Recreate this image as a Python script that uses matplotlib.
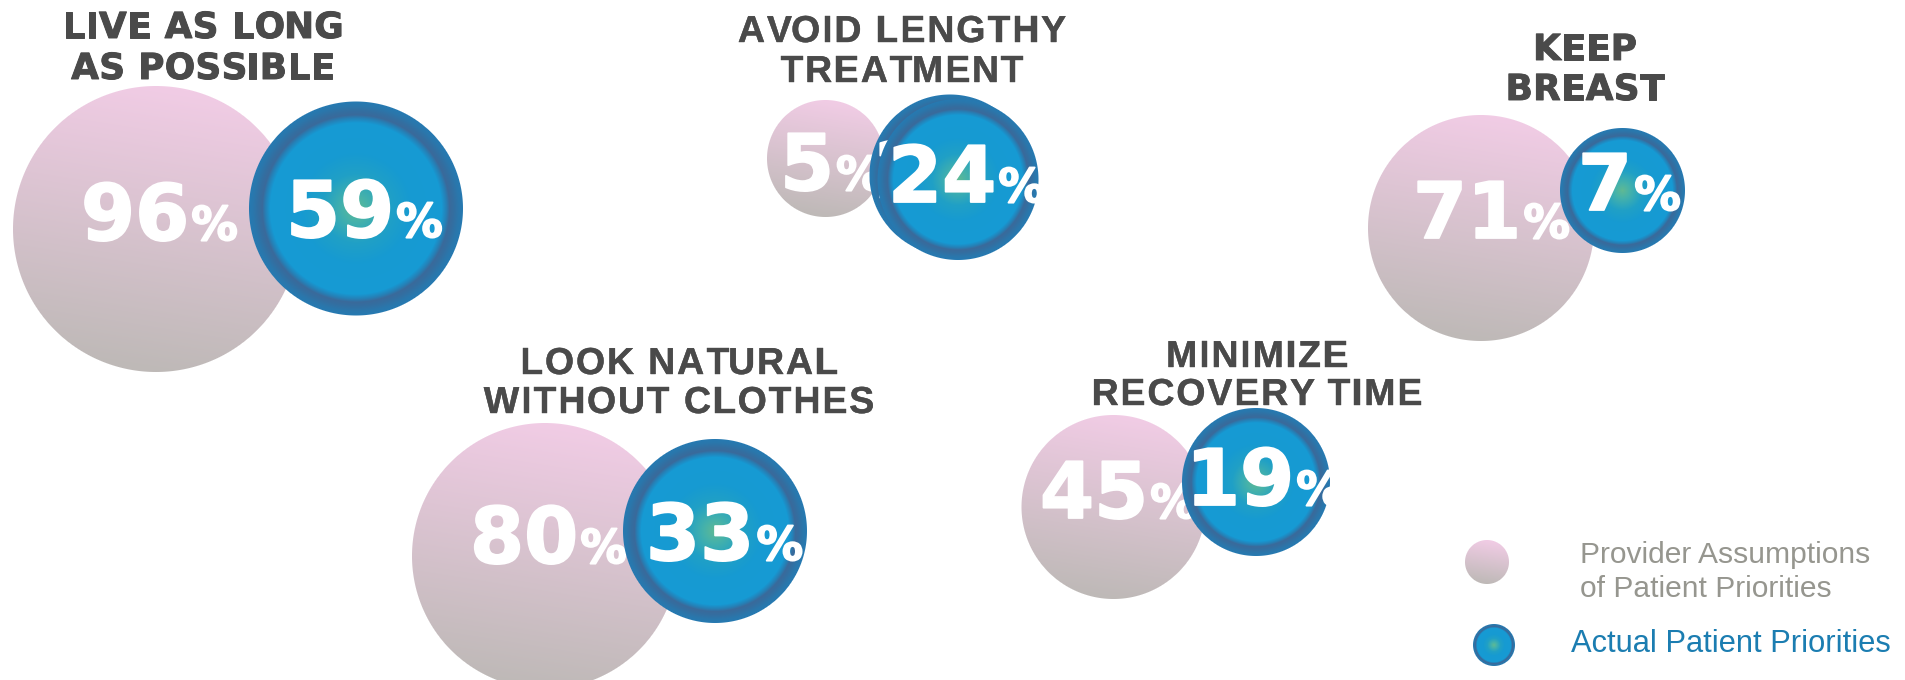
import numpy as np
import matplotlib
matplotlib.use("Agg")
import matplotlib.pyplot as plt
import matplotlib.patheffects as pe
from matplotlib.patches import Circle
from matplotlib.font_manager import FontProperties

# ---------------------------------------------------------------- data
categories = [
    ["LIVE AS LONG", "AS POSSIBLE"],
    ["AVOID LENGTHY", "TREATMENT"],
    ["KEEP", "BREAST"],
    ["LOOK NATURAL", "WITHOUT CLOTHES"],
    ["MINIMIZE", "RECOVERY TIME"],
]
provider_pct = [96, 5, 71, 80, 45]
patient_pct = [59, 24, 7, 33, 19]
legend_labels = ["Provider Assumptions\nof Patient Priorities",
                 "Actual Patient Priorities"]

# ---------------------------------------------------------------- layout (pixel units)
W, H, DPI = 1905, 680, 100
# (cx, cy, r) for provider and patient bubbles, number anchors, title centre/baselines/style
layout = [
    dict(pink=(156, 229, 143), blue=(356, 208.5, 107), ptxt=(81, 240), btxt=(286, 237),
         title=(203, (38, 79), "dejavu")),
    dict(pink=(825.5, 158.5, 58.5), blue=(958, 179.5, 80.5), ptxt=(780, 190), btxt=(888, 202),
         title=(902, (42, 82), "arial"), echo=(-8, -4.5)),
    dict(pink=(1481, 228, 113), blue=(1622.5, 190.5, 62.5), ptxt=(1413, 238), btxt=(1578, 210),
         title=(1585, (60, 100), "dejavu")),
    dict(pink=(545, 556, 133), blue=(715, 531, 92), ptxt=(470, 563), btxt=(646, 560),
         title=(679, (374, 413), "arial")),
    dict(pink=(1113.5, 507, 92), blue=(1256, 482, 74), ptxt=(1040, 518), btxt=(1186, 505),
         title=(1257, (367, 405), "arial")),
]

TITLE_COLOR = "#4a4a4a"
fp_title_dv = FontProperties(family="DejaVu Sans", weight="bold", size=25.8)
fp_title_ar = FontProperties(family="Liberation Sans", weight="bold", size=27)
fp_num = FontProperties(family="DejaVu Sans", weight="bold", size=56)
fp_pct = FontProperties(family="DejaVu Sans", weight="bold", size=33.5)

num_fx = [pe.withStroke(linewidth=1.3, foreground="white")]
title_dv_fx = [pe.withStroke(linewidth=0.7, foreground=TITLE_COLOR)]
title_ar_fx = [pe.withStroke(linewidth=0.3, foreground=TITLE_COLOR)]

fig = plt.figure(figsize=(W / DPI, H / DPI), dpi=DPI)
ax = fig.add_axes([0, 0, 1, 1])
ax.set_xlim(0, W)
ax.set_ylim(H, 0)
ax.axis("off")
renderer = fig.canvas.get_renderer()


def text_width(s, fp):
    w1, _, _ = renderer.get_text_width_height_descent("H" + s + "H", fp, ismath=False)
    w0, _, _ = renderer.get_text_width_height_descent("HH", fp, ismath=False)
    return w1 - w0


def pixel_grid(cx, cy, r):
    x0, x1 = int(np.floor(cx - r)) - 2, int(np.ceil(cx + r)) + 2
    y0, y1 = int(np.floor(cy - r)) - 2, int(np.ceil(cy + r)) + 2
    xs = np.arange(x0, x1) + 0.5
    ys = np.arange(y0, y1) + 0.5
    X, Y = np.meshgrid(xs, ys)
    return X, Y, (x0, x1, y1, y0)


def pink_bubble(cx, cy, r, z):
    X, Y, ext = pixel_grid(cx, cy, r)
    d = np.hypot(X - cx, Y - cy)
    t = np.clip((Y - (cy - r)) / (2 * r) - 0.08 * (X - cx) / r, 0, 1)[..., None]
    top = np.array([241, 204, 229]) / 255
    bot = np.array([190, 185, 183]) / 255
    rgb = top * (1 - t) + bot * t
    a = np.clip(r - d + 0.5, 0, 1)[..., None]
    ax.imshow(np.concatenate([rgb, a], axis=2), extent=ext, origin="upper",
              interpolation="nearest", zorder=z)


BLUE_STOPS = np.array([0.0, 0.12, 0.32, 0.52, 0.80, 0.845, 0.875, 0.91, 0.96, 1.0])
BLUE_R = np.array([95, 70, 32, 22, 22, 38, 58, 52, 42, 38])
BLUE_G = np.array([185, 178, 160, 154, 154, 128, 106, 110, 119, 122])
BLUE_B = np.array([148, 170, 198, 210, 212, 182, 155, 160, 172, 178])


def blue_bubble(cx, cy, r, z):
    X, Y, ext = pixel_grid(cx, cy, r)
    d = np.hypot(X - cx, Y - cy)
    rho = np.clip(d / r, 0, 1)
    rgb = np.stack([np.interp(rho, BLUE_STOPS, BLUE_R),
                    np.interp(rho, BLUE_STOPS, BLUE_G),
                    np.interp(rho, BLUE_STOPS, BLUE_B)], axis=2) / 255
    a = np.clip(r - d + 0.5, 0, 1)[..., None]
    ax.imshow(np.concatenate([rgb, a], axis=2), extent=ext, origin="upper",
              interpolation="nearest", zorder=z)
    clip = Circle((cx, cy), r, transform=ax.transData, facecolor="none", edgecolor="none")
    return clip


def percent_label(x, y, value, z, clip=None):
    s = str(value)
    t1 = ax.text(x, y, s, fontproperties=fp_num, color="white", ha="left",
                 va="baseline", zorder=z, path_effects=num_fx)
    t2 = ax.text(x + text_width(s, fp_num) + 2, y, "%", fontproperties=fp_pct,
                 color="white", ha="left", va="baseline", zorder=z, path_effects=num_fx)
    if clip is not None:
        t1.set_clip_path(clip)
        t2.set_clip_path(clip)


def spaced_line(xc, y, s, fp, spacing, fx):
    total = text_width(s, fp) + spacing * (len(s) - 1)
    x = xc - total / 2
    for i, ch in enumerate(s):
        off = text_width(s[:i], fp) + spacing * i if i else 0
        ax.text(x + off, y, ch, fontproperties=fp, color=TITLE_COLOR,
                ha="left", va="baseline", zorder=10, path_effects=fx)


for i, (lines, pv, av, lay) in enumerate(zip(categories, provider_pct, patient_pct, layout)):
    base = 2 + i * 0.01
    pcx, pcy, pr = lay["pink"]
    pink_bubble(pcx, pcy, pr, base)
    percent_label(*lay["ptxt"], pv, base + 0.001)

    bcx, bcy, br = lay["blue"]
    if "echo" in lay:
        ex, ey = lay["echo"]
        c0 = blue_bubble(bcx + ex, bcy + ey, br, base + 0.002)
        percent_label(lay["btxt"][0] - 14, lay["btxt"][1] + ey, av, base + 0.003, c0)
    clip = blue_bubble(bcx, bcy, br, base + 0.004)
    percent_label(*lay["btxt"], av, base + 0.005, clip)

    xc, baselines, style = lay["title"]
    for line, yb in zip(lines, baselines):
        if style == "dejavu":
            spaced_line(xc, yb, line, fp_title_dv, 0.3, title_dv_fx)
        else:
            spaced_line(xc, yb, line, fp_title_ar, 1.9, title_ar_fx)

# ---------------------------------------------------------------- legend
pink_bubble(1487, 562, 22, 20)
blue_bubble(1494, 645, 21, 20)
prov1, prov2 = legend_labels[0].split("\n")
ax.text(1580, 563, prov1, family="Liberation Sans", size=21.6,
        color="#96968f", ha="left", va="baseline", zorder=21)
ax.text(1580, 597, prov2, family="Liberation Sans", size=21.6,
        color="#96968f", ha="left", va="baseline", zorder=21)
ax.text(1571, 652, legend_labels[1], family="Liberation Sans", size=22.2,
        color="#1b7db1", ha="left", va="baseline", zorder=21)

fig.savefig("out.png", dpi=DPI)
